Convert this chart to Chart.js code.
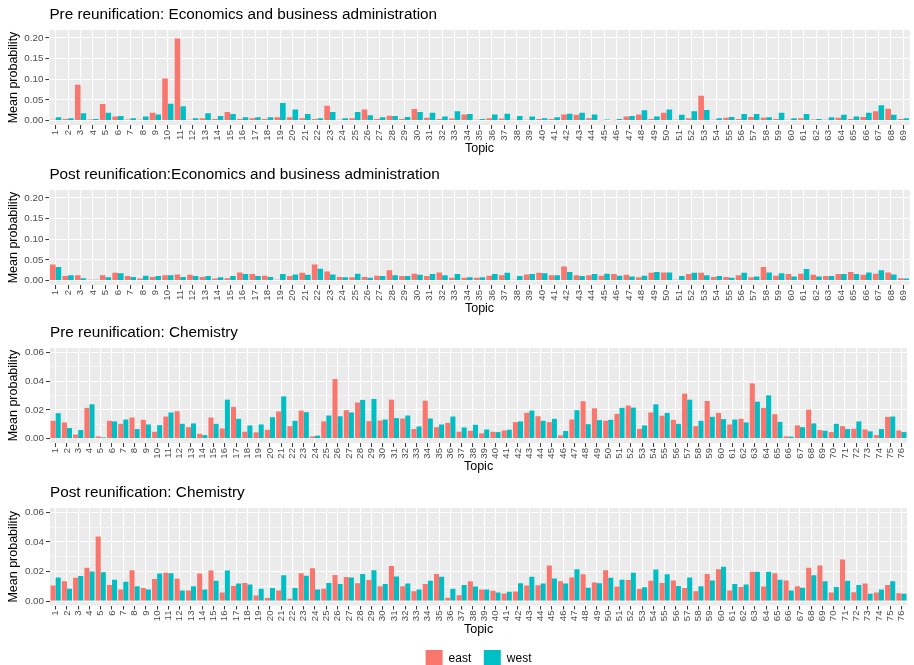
<!DOCTYPE html>
<html>
<head>
<meta charset="utf-8">
<script src="https://cdn.jsdelivr.net/npm/chart.js@4.4.1/dist/chart.umd.min.js"></script>
<style>
  html, body { margin: 0; padding: 0; background: #fff; overflow: hidden; }
  body { width: 914px; height: 665px; position: relative; }
  canvas { position: absolute; left: 0; }
</style>
</head>
<body>
<canvas id="econPre" width="916" height="157" style="top:0px"></canvas>
<canvas id="econPost" width="916" height="157" style="top:160px"></canvas>
<canvas id="chemPre" width="914" height="157" style="top:318px"></canvas>
<canvas id="chemPost" width="914" height="199" style="top:478px"></canvas>
<script>
// topics
const topicsEcon = ['1','2','3','4','5','6','7','8','9','10','11','12','13','14','15','16','17','18','19','20',
  '21','22','23','24','25','26','27','28','29','30','31','32','33','34','35','36','37','38','39','40',
  '41','42','43','44','45','46','47','48','49','50','51','52','53','54','55','56','57','58','59','60',
  '61','62','63','64','65','66','67','68','69'];
const topicsChem = ['1','2','3','4','5','6','7','8','9','10','11','12','13','14','15','16','17','18','19','20',
  '21','22','23','24','25','26','27','28','29','30','31','32','33','34','35','36','37','38','39','40',
  '41','42','43','44','45','46','47','48','49','50','51','52','53','54','55','56','57','58','59','60',
  '61','62','63','64','65','66','67','68','69','70','71','72','73','74','75','76'];

// Economics and business administration, pre reunification
const econPreEast = [0.002,0.004,0.087,0.003,0.040,0.010,0.003,0.002,0.019,0.102,
  0.199,0.002,0.006,0.004,0.021,0.004,0.006,0.004,0.008,0.008,
  0.006,0.004,0.036,0.002,0.006,0.027,0.004,0.012,0.004,0.028,
  0.007,0.004,0.005,0.015,0.002,0.006,0.005,0.002,0.002,0.004,
  0.004,0.015,0.014,0.006,0.001,0.001,0.010,0.015,0.004,0.019,
  0.002,0.006,0.060,0.002,0.007,0.004,0.009,0.007,0.004,0.002,
  0.006,0.003,0.002,0.007,0.004,0.009,0.023,0.029,0.004];
const econPreWest = [0.008,0.006,0.018,0.004,0.019,0.011,0.006,0.010,0.015,0.041,
  0.035,0.006,0.018,0.011,0.016,0.008,0.008,0.008,0.043,0.027,
  0.016,0.006,0.021,0.006,0.021,0.013,0.008,0.011,0.009,0.021,
  0.019,0.010,0.023,0.016,0.004,0.015,0.017,0.011,0.010,0.006,
  0.008,0.017,0.019,0.015,0.003,0.004,0.011,0.025,0.010,0.027,
  0.014,0.023,0.026,0.006,0.009,0.016,0.016,0.008,0.019,0.006,
  0.016,0.004,0.008,0.014,0.010,0.019,0.037,0.014,0.006];

// Economics and business administration, post reunification
const econPostEast = [0.039,0.011,0.013,0.002,0.013,0.019,0.011,0.005,0.009,0.013,
  0.015,0.014,0.009,0.005,0.006,0.020,0.016,0.012,0.002,0.011,
  0.019,0.039,0.022,0.009,0.008,0.009,0.012,0.025,0.011,0.017,
  0.011,0.020,0.007,0.007,0.007,0.012,0.013,0.002,0.015,0.019,
  0.013,0.034,0.013,0.013,0.012,0.016,0.014,0.008,0.019,0.020,
  0.002,0.016,0.019,0.009,0.009,0.013,0.008,0.033,0.012,0.016,
  0.017,0.014,0.011,0.016,0.021,0.014,0.017,0.020,0.006];
const econPostWest = [0.033,0.013,0.006,0.002,0.008,0.018,0.009,0.012,0.011,0.013,
  0.009,0.011,0.011,0.008,0.011,0.016,0.011,0.009,0.016,0.015,
  0.014,0.029,0.015,0.008,0.017,0.007,0.011,0.013,0.011,0.014,
  0.016,0.013,0.016,0.008,0.008,0.016,0.019,0.011,0.016,0.018,
  0.013,0.021,0.011,0.016,0.017,0.012,0.010,0.012,0.021,0.020,
  0.011,0.019,0.013,0.011,0.007,0.019,0.010,0.020,0.018,0.010,
  0.028,0.010,0.011,0.016,0.016,0.020,0.025,0.015,0.005];

// Chemistry, pre reunification
const chemPreEast = [0.0124,0.0113,0.0028,0.0214,0.0016,0.0124,0.0103,0.0147,0.0131,0.0048,
  0.0154,0.0191,0.0080,0.0034,0.0147,0.0071,0.0221,0.0048,0.0044,0.0062,
  0.0189,0.0087,0.0195,0.0016,0.0120,0.0414,0.0198,0.0251,0.0122,0.0126,
  0.0271,0.0140,0.0067,0.0264,0.0080,0.0110,0.0048,0.0055,0.0037,0.0048,
  0.0057,0.0115,0.0179,0.0156,0.0115,0.0023,0.0133,0.0260,0.0211,0.0124,
  0.0172,0.0230,0.0067,0.0182,0.0159,0.0131,0.0313,0.0087,0.0262,0.0179,
  0.0099,0.0138,0.0384,0.0214,0.0170,0.0016,0.0092,0.0202,0.0060,0.0046,
  0.0087,0.0069,0.0064,0.0025,0.0152,0.0057];
const chemPreWest = [0.0177,0.0074,0.0060,0.0239,0.0009,0.0120,0.0133,0.0067,0.0099,0.0094,
  0.0182,0.0103,0.0106,0.0025,0.0103,0.0271,0.0138,0.0092,0.0099,0.0149,
  0.0294,0.0124,0.0184,0.0021,0.0161,0.0156,0.0182,0.0269,0.0276,0.0133,
  0.0143,0.0161,0.0085,0.0140,0.0099,0.0154,0.0078,0.0097,0.0064,0.0046,
  0.0062,0.0120,0.0195,0.0124,0.0138,0.0053,0.0198,0.0101,0.0129,0.0131,
  0.0214,0.0216,0.0092,0.0239,0.0179,0.0103,0.0271,0.0124,0.0152,0.0136,
  0.0133,0.0113,0.0257,0.0301,0.0117,0.0014,0.0080,0.0106,0.0055,0.0103,
  0.0067,0.0120,0.0051,0.0067,0.0154,0.0046];

// Chemistry, post reunification
const chemPostEast = [0.0105,0.0135,0.0158,0.0226,0.0437,0.0109,0.0079,0.0209,0.0088,0.0149,
  0.0191,0.0151,0.0072,0.0186,0.0207,0.0058,0.0102,0.0123,0.0037,0.0021,
  0.0072,0.0016,0.0188,0.0223,0.0084,0.0177,0.0163,0.0121,0.0142,0.0100,
  0.0237,0.0100,0.0067,0.0116,0.0184,0.0023,0.0040,0.0135,0.0079,0.0070,
  0.0051,0.0065,0.0105,0.0107,0.0240,0.0135,0.0160,0.0181,0.0126,0.0209,
  0.0098,0.0142,0.0081,0.0137,0.0123,0.0140,0.0088,0.0067,0.0184,0.0216,
  0.0072,0.0095,0.0198,0.0098,0.0188,0.0140,0.0100,0.0226,0.0240,0.0058,
  0.0281,0.0060,0.0119,0.0058,0.0109,0.0053];
const chemPostWest = [0.0160,0.0084,0.0170,0.0200,0.0195,0.0144,0.0130,0.0100,0.0079,0.0186,
  0.0188,0.0072,0.0100,0.0079,0.0137,0.0207,0.0119,0.0112,0.0084,0.0088,
  0.0174,0.0088,0.0172,0.0079,0.0123,0.0116,0.0160,0.0184,0.0209,0.0116,
  0.0167,0.0119,0.0079,0.0137,0.0165,0.0084,0.0109,0.0098,0.0079,0.0058,
  0.0063,0.0121,0.0165,0.0119,0.0153,0.0119,0.0216,0.0091,0.0121,0.0158,
  0.0144,0.0191,0.0093,0.0214,0.0181,0.0102,0.0160,0.0100,0.0140,0.0233,
  0.0116,0.0112,0.0198,0.0198,0.0144,0.0072,0.0091,0.0174,0.0135,0.0095,
  0.0137,0.0109,0.0049,0.0079,0.0135,0.0049];

Chart.defaults.font.family = '"Liberation Sans", Arial, sans-serif';

// grey panel behind the bars, ggplot style
const panelBackground = {
  id: 'panelBackground',
  beforeDraw(chart) {
    const { ctx, chartArea: a } = chart;
    ctx.save();
    ctx.fillStyle = '#EBEBEB';
    ctx.fillRect(a.left, a.top, a.right - a.left, a.bottom - a.top);
    ctx.restore();
  }
};

function isMajor(v, major) {
  return Math.abs(v / major - Math.round(v / major)) < 1e-6;
}

function drawPanel(id, titleText, topics, east, west, axis, showLegend) {
  const yTick = ctx => ctx.tick && isMajor(ctx.tick.value, axis.major);
  return new Chart(id, {
    type: 'bar',
    data: {
      labels: topics,
      datasets: [
        { label: 'east', data: east, backgroundColor: '#F8766D', borderWidth: 0,
          categoryPercentage: 0.9, barPercentage: 1.0 },
        { label: 'west', data: west, backgroundColor: '#00BFC4', borderWidth: 0,
          categoryPercentage: 0.9, barPercentage: 1.0 }
      ]
    },
    options: {
      responsive: false,
      animation: false,
      devicePixelRatio: 1,
      layout: { padding: 0, autoPadding: false },
      scales: {
        x: {
          offset: true,
          afterFit: s => { s.height = 32; },
          border: { display: false },
          grid: { offset: false, color: '#FFFFFF', lineWidth: 1.1,
                  tickColor: '#333333', tickLength: 4, tickWidth: 1 },
          ticks: { autoSkip: false, maxRotation: 90, minRotation: 90, padding: 1,
                   color: '#4D4D4D', font: { size: 9.6 } },
          title: { display: true, text: 'Topic', color: '#000',
                   font: { size: 12.5 }, padding: { top: 0, bottom: 0.5 } }
        },
        y: {
          min: axis.min,
          max: axis.max,
          afterFit: s => { s.width = axis.width; },
          border: { display: false },
          grid: {
            color: '#FFFFFF',
            lineWidth: ctx => yTick(ctx) ? 1.1 : 0.5,
            tickColor: ctx => yTick(ctx) ? '#333333' : 'rgba(0,0,0,0)',
            tickLength: 4,
            tickWidth: 1
          },
          ticks: {
            stepSize: axis.minor,
            includeBounds: false,
            padding: 2,
            color: '#4D4D4D',
            font: { size: 9.8 },
            callback: v => isMajor(v, axis.major) ? v.toFixed(2) : ''
          },
          title: { display: true, text: 'Mean probability', color: '#000',
                   font: { size: 12.5 }, padding: { top: 6.5, bottom: 0 } }
        }
      },
      plugins: {
        title: {
          display: true,
          text: titleText,
          align: 'start',
          fullSize: false,
          color: '#000',
          font: { size: 15.3, weight: 'normal' },
          padding: { top: 5.8, bottom: 5.84 }
        },
        legend: {
          display: showLegend,
          position: 'bottom',
          fullSize: false,
          labels: { boxWidth: 17, boxHeight: 17, padding: 12.5, color: '#000',
                    font: { size: 12 } }
        },
        tooltip: { enabled: false }
      }
    },
    plugins: [panelBackground]
  });
}

const econAxis = { min: -0.0105, max: 0.2193, minor: 0.025, major: 0.05, width: 49.4 };
const chemAxis = { min: -0.003, max: 0.063, minor: 0.01, major: 0.02, width: 50 };

drawPanel('econPre', 'Pre reunification: Economics and business administration',
  topicsEcon, econPreEast, econPreWest, econAxis, false);
drawPanel('econPost', 'Post reunification:Economics and business administration',
  topicsEcon, econPostEast, econPostWest, econAxis, false);
drawPanel('chemPre', 'Pre reunification: Chemistry',
  topicsChem, chemPreEast, chemPreWest, chemAxis, false);
drawPanel('chemPost', 'Post reunification: Chemistry',
  topicsChem, chemPostEast, chemPostWest, chemAxis, true);
</script>
</body>
</html>
